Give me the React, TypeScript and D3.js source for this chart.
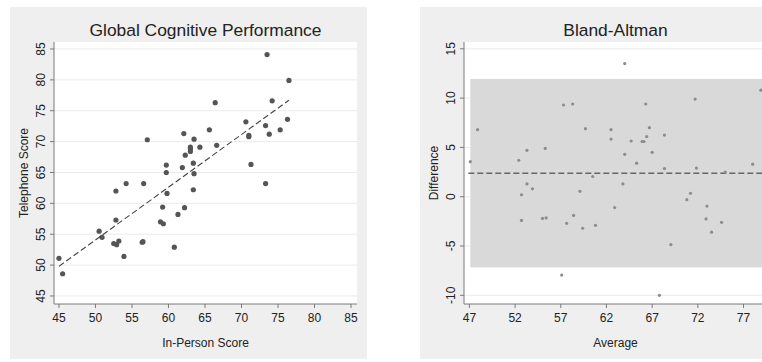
import React from 'react'
import * as d3 from 'd3'

// in-person vs telephone scores
const inPerson = [73.5, 76.5, 74.2, 66.4, 70.6, 76.3, 73.3, 65.6, 62.1, 73.8, 75.3, 57.1, 63.5, 71.0, 71.0, 63.0, 63.0, 63.0, 64.3, 66.6, 62.3, 59.7, 59.7, 61.9, 63.4, 63.5, 71.3, 52.8, 54.2, 56.6, 59.8, 63.4, 73.3, 59.2, 62.2, 61.3, 52.8, 58.9, 59.3, 50.5, 50.9, 52.5, 52.9, 53.2, 56.4, 56.5, 60.8, 53.9, 45.0, 45.5]
const telephone = [84.1, 79.9, 76.6, 76.3, 73.2, 73.6, 72.6, 71.9, 71.3, 71.2, 71.9, 70.3, 70.4, 71.0, 70.8, 69.1, 68.8, 68.4, 69.1, 69.4, 67.8, 66.2, 65.0, 65.8, 66.5, 64.8, 66.3, 62.0, 63.2, 63.2, 61.6, 62.2, 63.2, 59.4, 59.3, 58.2, 57.3, 57.0, 56.7, 55.5, 54.5, 53.5, 53.3, 53.9, 53.7, 53.8, 52.9, 51.4, 51.1, 48.6]
const fitX = [45.0, 76.5]
const fitY = [49.8, 76.7]

// Bland-Altman points
const baAverage = [47.1, 47.9, 52.4, 53.3, 55.3, 57.3, 58.3, 59.7, 62.5, 62.5, 64.0, 66.3, 66.7, 66.4, 66.1, 65.9, 64.7, 64.0, 67.0, 65.3, 68.35, 68.35, 71.7, 71.85, 75.0, 78.0, 78.9, 60.5, 53.3, 52.7, 53.9, 59.1, 62.9, 52.7, 55.0, 55.4, 57.65, 58.4, 59.4, 60.8, 57.1, 63.8, 71.2, 70.8, 73.0, 72.9, 74.6, 73.5, 69.05, 67.8]
const baDifference = [3.55, 6.8, 3.7, 4.7, 4.9, 9.3, 9.4, 6.9, 6.8, 5.85, 13.5, 9.4, 7.0, 6.1, 5.6, 5.6, 5.65, 4.3, 4.5, 3.4, 6.25, 2.85, 9.9, 2.9, 2.5, 3.3, 10.8, 2.05, 1.3, 0.2, 0.8, 0.55, -1.1, -2.4, -2.2, -2.15, -2.7, -1.9, -3.2, -2.9, -7.95, 1.3, 0.35, -0.3, -0.95, -2.25, -2.6, -3.6, -4.85, -10.0]
const baMean = 2.38
const baLimits = [-7.17, 11.94]

const leftXTicks = [45, 50, 55, 60, 65, 70, 75, 80, 85]
const leftYTicks = [45, 50, 55, 60, 65, 70, 75, 80, 85]
const rightXTicks = [47, 52, 57, 62, 67, 72, 77]
const rightYTicks = [-10, -5, 0, 5, 10, 15]

const font = 'Liberation Sans, Arial, sans-serif'
const panelBg = '#efefef'
const gridCol = '#ebebeb'
const axisCol = '#7a7a7a'
const textCol = '#222'

type PanelProps = {
  ox: number
  title: string
  xLabel: string
  yLabel: string
  x: d3.ScaleLinear<number, number>
  y: d3.ScaleLinear<number, number>
  xTicks: number[]
  yTicks: number[]
  children: React.ReactNode
}

const plot = { left: 44, top: 35, width: 303, height: 262 }

function Panel({ ox, title, xLabel, yLabel, x, y, xTicks, yTicks, children }: PanelProps) {
  const L = ox + plot.left
  const T = 7 + plot.top
  const R = L + plot.width
  const B = T + plot.height
  const cx = (L + R) / 2
  return (
    <g fontFamily={font} fill={textCol}>
      <rect x={ox} y={7} width={357} height={352} fill={panelBg} />
      <rect x={L} y={T} width={plot.width} height={plot.height} fill="#fff" />
      {yTicks.map(t => (
        <line key={'g' + t} x1={L} x2={R} y1={y(t)} y2={y(t)} stroke={gridCol} strokeWidth={1} />
      ))}
      {children}
      <line x1={L} x2={L} y1={T} y2={B} stroke={axisCol} strokeWidth={1} />
      <line x1={L} x2={R} y1={B} y2={B} stroke={axisCol} strokeWidth={1} />
      {yTicks.map(t => (
        <g key={'y' + t}>
          <line x1={L - 4} x2={L} y1={y(t)} y2={y(t)} stroke={axisCol} />
          <text transform={`translate(${L - 9},${y(t)}) rotate(-90)`} textAnchor="middle" fontSize={12}>{t}</text>
        </g>
      ))}
      {xTicks.map(t => (
        <g key={'x' + t}>
          <line x1={x(t)} x2={x(t)} y1={B} y2={B + 4} stroke={axisCol} />
          <text x={x(t)} y={B + 18} textAnchor="middle" fontSize={12}>{t}</text>
        </g>
      ))}
      <text x={cx} y={36} textAnchor="middle" fontSize={17.4}>{title}</text>
      <text x={cx} y={347} textAnchor="middle" fontSize={12}>{xLabel}</text>
      <text transform={`translate(${ox + 18},${(T + B) / 2}) rotate(-90)`} textAnchor="middle" fontSize={12}>{yLabel}</text>
    </g>
  )
}

export default function App() {
  const lx = d3.scaleLinear().domain([44.32, 85.82]).range([54, 357])
  const ly = d3.scaleLinear().domain([43.7, 86.13]).range([304, 42])
  const rx = d3.scaleLinear().domain([46.41, 79.57]).range([464, 767])
  const ry = d3.scaleLinear().domain([-10.88, 15.69]).range([304, 42])

  const fitLine = d3.line<number>().x((_, i) => lx(fitX[i])).y(d => ly(d))
  const avgExt = d3.extent(baAverage) as [number, number]

  return (
    <svg width={762} height={362} style={{ position: 'absolute', left: 0, top: 0 }}>
      <rect width={762} height={362} fill="#fff" />
      <Panel ox={10} title="Global Cognitive Performance" xLabel="In-Person Score" yLabel="Telephone Score"
        x={lx} y={ly} xTicks={leftXTicks} yTicks={leftYTicks}>
        {inPerson.map((v, i) => (
          <circle key={i} cx={lx(v)} cy={ly(telephone[i])} r={2.6} fill="#555" />
        ))}
        <path d={fitLine(fitY) || ''} fill="none" stroke="#444" strokeWidth={1.1} strokeDasharray="6,3" />
      </Panel>
      <Panel ox={420} title="Bland-Altman" xLabel="Average" yLabel="Difference"
        x={rx} y={ry} xTicks={rightXTicks} yTicks={rightYTicks}>
        <rect x={rx(avgExt[0])} y={ry(baLimits[1])} width={rx(avgExt[1]) - rx(avgExt[0]) + 10}
          height={ry(baLimits[0]) - ry(baLimits[1])} fill="#d9d9d9" />
        <line x1={rx(avgExt[0]) - 2} x2={rx(avgExt[1]) + 10} y1={ry(baMean)} y2={ry(baMean)}
          stroke="#666" strokeWidth={1.4} strokeDasharray="6,3" />
        {baAverage.map((v, i) => (
          <circle key={i} cx={rx(v)} cy={ry(baDifference[i])} r={1.6} fill="#8c8c8c" />
        ))}
      </Panel>
    </svg>
  )
}
